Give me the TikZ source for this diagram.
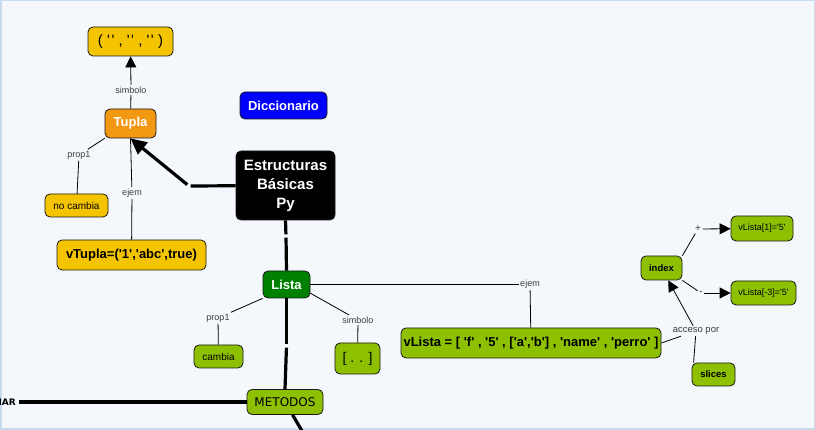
\documentclass[tikz,border=0pt]{standalone}
\usepackage{fontspec}
\newfontfamily\robfont{Liberation Sans}
\newfontfamily\dejafont{DejaVu Sans}
\usetikzlibrary{arrows.meta}
\definecolor{fondo}{RGB}{244,248,252}
\definecolor{borde}{RGB}{200,220,240}
\definecolor{amarillo}{RGB}{245,196,0}
\definecolor{naranja}{RGB}{243,152,18}
\definecolor{verde}{RGB}{0,128,0}
\definecolor{lima}{RGB}{141,192,0}
\definecolor{azul}{RGB}{0,0,255}
\definecolor{gristexto}{RGB}{60,60,60}

\begin{document}
\begin{tikzpicture}[x=1pt,y=-1pt,
    concepto/.style={draw=black!90,line width=0.8pt,rounded corners=5pt,inner sep=0pt,align=center,font=\robfont\fontsize{13}{15}\selectfont},
    negrita/.style={font=\robfont\bfseries\fontsize{13}{15}\selectfont},
    chico/.style={font=\robfont\fontsize{10}{12}\selectfont},
    enlace/.style={inner sep=1.5pt,text=gristexto,font=\robfont\fontsize{9}{10}\selectfont},
    hueco/.style={inner sep=1.5pt},
    fina/.style={line width=0.8pt},
    gruesa/.style={line width=3.2pt},
    punta/.style={-{Triangle[length=11pt,width=11pt]}}]
    \fill[fondo] (0,0) rectangle (815,430);
    \draw[borde,line width=1.5pt] (0.75,0.75) rectangle (814.25,429.25);
    \useasboundingbox (0,0) rectangle (815,430);

    \node[concepto,fill=amarillo,minimum width=85pt,minimum height=29pt,font=\robfont\fontsize{15}{15}\selectfont] (simtupla) at (130.5,41.5) {( '\kern1.5pt' , '\kern1.5pt' , '\kern1.5pt' )};
    \node[concepto,negrita,fill=naranja,text=white,minimum width=51pt,minimum height=29pt] (tupla) at (130.5,123.5) {Tupla};
    \node[concepto,negrita,fill=azul,text=white,minimum width=87pt,minimum height=27pt] (dicc) at (283.5,105.5) {Diccionario};
    \node[concepto,fill=black,text=white,minimum width=99pt,minimum height=69pt,font=\robfont\bfseries\fontsize{15}{19}\selectfont] (estr) at (285.5,185.5) {Estructuras\\Básicas\\Py};
    \node[concepto,chico,fill=amarillo,minimum width=63pt,minimum height=23pt] (nocambia) at (76.5,205.5) {no cambia};
    \node[concepto,negrita,fill=amarillo,minimum width=149pt,minimum height=30pt] (vtupla) at (131.5,255) {vTupla=('1','abc',true)};
    \node[concepto,negrita,fill=verde,text=white,minimum width=47pt,minimum height=27pt] (lista) at (286.5,284.5) {Lista};
    \node[concepto,negrita,fill=lima,minimum width=260pt,minimum height=30pt] (vlista) at (531,343) {vLista = [ 'f' , '5' , ['a','b'] , 'name' , 'perro' ]};
    \node[concepto,chico,fill=lima,minimum width=49pt,minimum height=23pt] (cambia) at (218.5,356.5) {cambia};
    \node[concepto,fill=lima,minimum width=45pt,minimum height=31pt,font=\robfont\fontsize{14}{15}\selectfont] (corch) at (357.5,358.5) {[ . . ]};
    \node[concepto,fill=lima,minimum width=76pt,minimum height=25pt,font=\dejafont\fontsize{12}{14}\selectfont] (metodos) at (285,402) {METODOS};
    \node[concepto,fill=lima,minimum width=41pt,minimum height=24pt,font=\robfont\bfseries\fontsize{9.5}{11}\selectfont] (index) at (661.5,268) {index};
    \node[concepto,fill=lima,minimum width=43pt,minimum height=23pt,font=\robfont\bfseries\fontsize{9.5}{11}\selectfont] (slices) at (713.5,374.5) {slices};
    \node[concepto,fill=lima,minimum width=62pt,minimum height=25pt,font=\robfont\fontsize{9}{11}\selectfont] (vuno) at (762,228.5) {vLista[1]='5'};
    \node[concepto,fill=lima,minimum width=65pt,minimum height=24pt,font=\robfont\fontsize{9}{11}\selectfont] (vtres) at (763.5,293) {vLista[-3]='5'};
    \node[anchor=east,inner sep=3pt,font=\dejafont\bfseries\fontsize{9}{11}\selectfont] (iar) at (19,402) {IAR};

    \node[enlace] (lsimb1) at (131,90) {simbolo};
    \node[enlace] (lprop1) at (79,155) {prop1};
    \node[enlace] (lejem1) at (132,193) {ejem};
    \node[enlace] (lejem2) at (530,284.5) {ejem};
    \node[enlace] (lprop2) at (218,318) {prop1};
    \node[enlace] (lsimb2) at (358,320) {simbolo};
    \node[enlace,font=\robfont\fontsize{9.5}{11}\selectfont] (lacc) at (696,331) {acceso por};
    \node[enlace,font=\robfont\fontsize{10}{11}\selectfont] (lmas) at (698,229) {+};
    \node[enlace,font=\robfont\fontsize{10}{11}\selectfont] (lmenos) at (701,293) {-};
    \node[hueco] (vacio1) at (189,186) {};
    \node[hueco] (vacio2) at (286,236) {};
    \node[hueco] (vacio3) at (286.5,346) {};
    \coordinate (mfin) at (305,436);

    \draw[fina] (tupla) -- (lsimb1);
    \draw[fina,punta] (lsimb1) -- (simtupla);
    \draw[gruesa] (estr) -- (vacio1);
    \draw[gruesa,-{Triangle[length=16pt,width=15pt]}] (vacio1) -- (tupla.south);
    \draw[fina] (tupla.south west) -- (lprop1);
    \draw[fina] (lprop1) -- (nocambia);
    \draw[fina] (tupla.south) -- (lejem1);
    \draw[fina] (lejem1) -- (vtupla);
    \draw[gruesa] (estr.south) -- (vacio2);
    \draw[gruesa] (vacio2) -- (lista.north);
    \draw[gruesa] (lista.south) -- (vacio3);
    \draw[gruesa] (vacio3) -- (metodos.north);
    \draw[gruesa] (metodos) -- (iar);
    \draw[gruesa] (metodos) -- (mfin);
    \draw[fina] (lista) -- (lejem2);
    \draw[fina] (lejem2) -- (vlista);
    \draw[fina] (lista.south west) -- (lprop2);
    \draw[fina] (lprop2) -- (cambia);
    \draw[fina] (lista.-20) -- (lsimb2);
    \draw[fina] (lsimb2) -- (corch);
    \draw[fina] (vlista.east) -- (lacc);
    \draw[fina,punta] (lacc) -- (index);
    \draw[fina] (lacc) -- ([xshift=2pt]slices.north west);
    \draw[fina] (index.north east) -- (lmas);
    \draw[fina,punta] (lmas) -- (vuno);
    \draw[fina] (index.south east) -- (lmenos);
    \draw[fina,punta] (lmenos) -- (vtres);
\end{tikzpicture}
\end{document}
